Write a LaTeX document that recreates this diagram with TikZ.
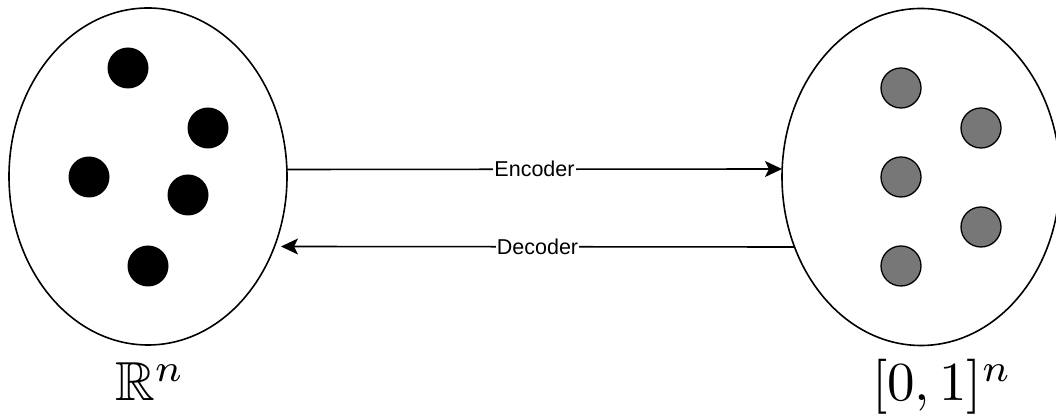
\documentclass[tikz,border=0pt]{standalone}
\usepackage{amssymb}
\usepackage{fontspec}
\newfontfamily\lblfont{Liberation Sans}
\usetikzlibrary{shapes.geometric,arrows.meta}
\definecolor{dotgray}{RGB}{119,119,119}
\tikzset{
  space/.style={draw=black, line width=1.6pt, ellipse, inner sep=0pt, outer sep=0pt, minimum width=278pt, minimum height=337pt},
  blackdot/.style={circle, fill=black, inner sep=0pt, minimum size=41pt},
  graydot/.style={circle, fill=dotgray, draw=black, line width=1.3pt, inner sep=0pt, minimum size=40pt},
  map/.style={line width=1.6pt, -{Stealth[length=17pt, width=16pt, inset=4pt]}},
  maplabel/.style={fill=white, inner sep=1pt, font=\lblfont\fontsize{21.5}{25}\selectfont},
  setlabel/.style={anchor=base, inner sep=0pt}
}
\begin{document}
\begin{tikzpicture}[x=1pt,y=1pt]
\useasboundingbox (0,0) rectangle (1056,414);
\clip (0,0) rectangle (1056,414);
\node[space] (L) at (148,237.5) {};
\node[space] (R) at (921,237) {};
\node[blackdot] (b1) at (128,346) {};
\node[blackdot] (b2) at (208,286) {};
\node[blackdot] (b3) at (89,237) {};
\node[blackdot] (b4) at (188,219) {};
\node[blackdot] (b5) at (148,148) {};
\node[graydot] (g1) at (901,326) {};
\node[graydot] (g2) at (981,286) {};
\node[graydot] (g3) at (901,237) {};
\node[graydot] (g4) at (981,187) {};
\node[graydot] (g5) at (901,148) {};
\draw[map] ([yshift=7pt]L.east) -- node[maplabel] (enc) {Encoder} ([yshift=8pt]R.west);
\draw[map] ([xshift=12pt,yshift=-70pt]R.west) -- node[maplabel] (dec) {Decoder} ([xshift=-6pt,yshift=-70pt]L.east);
\node[setlabel] (rn) at (150,13) {\scalebox{5.5}{$\mathbb{R}^n$}};
\node[setlabel] (un) at (942,13) {\scalebox{5.5}{$[0,1]^n$}};
\end{tikzpicture}
\end{document}
